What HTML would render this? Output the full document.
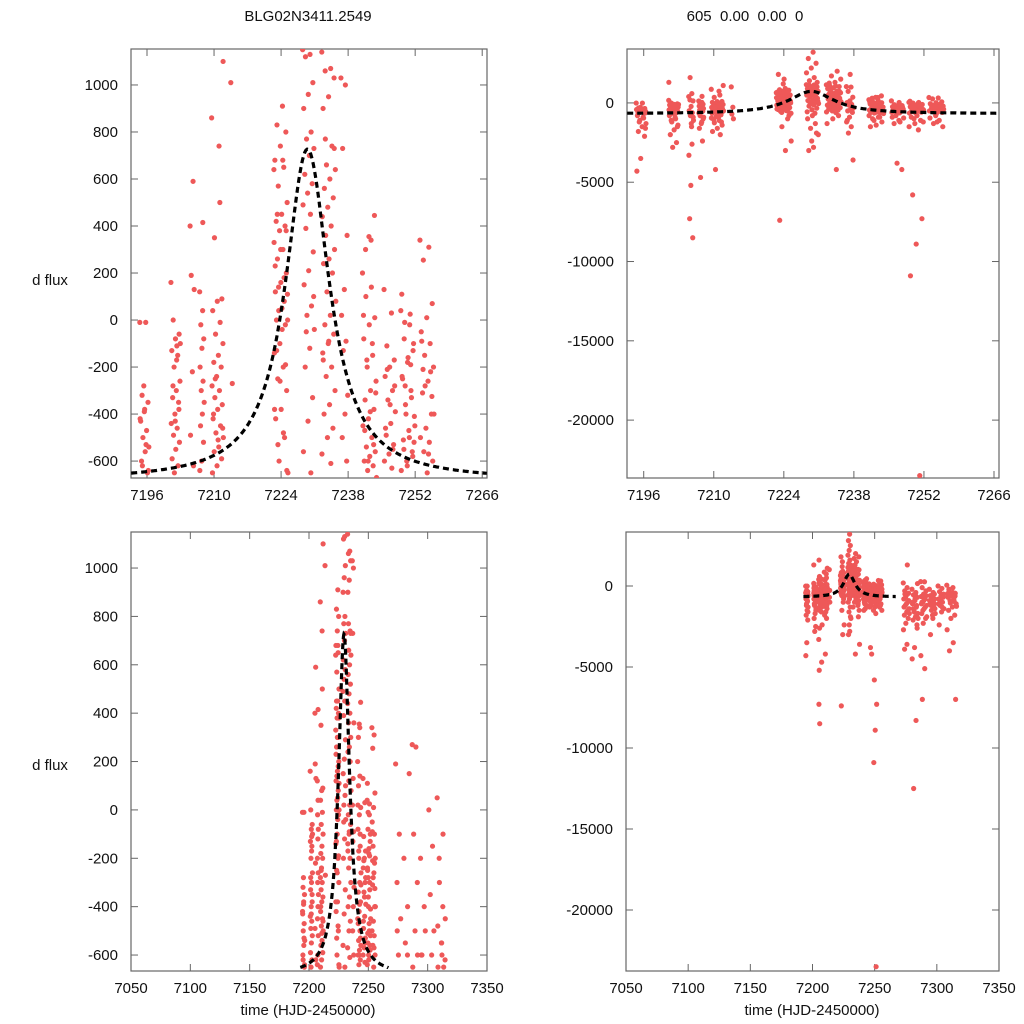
<!DOCTYPE html>
<html><head><meta charset="utf-8"><style>
html,body{margin:0;padding:0;background:#fff;width:1024px;height:1024px;overflow:hidden}
svg{display:block}
svg text{font-family:"Liberation Sans",sans-serif;fill:#111}
</style></head><body>
<svg id="chart" width="1024" height="1024" viewBox="0 0 1024 1024" xmlns="http://www.w3.org/2000/svg">
<text x="308" y="21" font-size="15" text-anchor="middle">BLG02N3411.2549</text>
<text x="745" y="21" font-size="15" text-anchor="middle" xml:space="preserve">605  0.00  0.00  0</text>
<text x="50" y="285" font-size="15" text-anchor="middle">d flux</text>
<text x="50" y="770" font-size="15" text-anchor="middle">d flux</text>
<text x="308" y="1015" font-size="15" text-anchor="middle">time (HJD-2450000)</text>
<text x="812" y="1015" font-size="15" text-anchor="middle">time (HJD-2450000)</text>
</svg>
<script>
// observation nights: start time, end time, flux values
const nightStart=[7194.5,7201,7205,7207,7209.5,7213.5,7222.5,7228.5,7232.5,7236.5,7241,7245.5,7249,7253,7273,7280,7287,7294,7301,7308];
const nightEnd  =[7196.5,7203,7206,7208,7212,7214,7225.5,7231,7235.5,7238,7244,7248,7252,7256,7278,7285,7292,7299,7306,7316];
const nightFlux=[
[-10,-10,-320,-350,-390,-430,-470,-500,-540,-560,-600,-650,-280,-420,-530,-620,-640,-380,-800,-950,-1100,-1300,-1500,-1800,-2100,-3500,-4300,-900,-1200,-1600],
[160,-110,0,-60,-80,-130,-150,-200,-260,-300,-330,-350,-400,-440,-460,-490,-520,-550,-590,-620,-650,-100,-170,-280,-380,-430,-800,-1000,-1200,-1400,-1700,-2000,-2500,-2800,1300,-900,-1100,-1500],
[400,590,190,130,-220,-490,-620,-800,-1100,-1500,-7300,-8500,-5200,-3300,-2600,1600,-900,-1300],
[120,40,-20,-80,-120,-200,-260,-300,-350,-400,-450,-520,-600,-640,415,-800,-1000,-1300,-1600,-2400,-4700,-900,-1200],
[860,740,350,90,80,40,-10,-60,-100,-150,-180,-200,-240,-280,-300,-330,-360,-380,-420,-450,-480,-500,-540,-560,-590,-620,-650,500,-250,-460,-510,-400,-750,-850,-950,-1100,-1250,-1400,-1600,-1800,-2000,-4200,1100,-900,-1050,-1200],
[1010,-270,-700,-1000],
[640,680,450,380,300,230,180,140,110,50,0,-20,-100,-140,-200,-250,-300,-380,-420,-500,-600,-650,910,830,800,740,680,650,570,500,450,420,400,380,330,300,260,200,160,120,80,40,0,-40,-130,-190,-260,-380,-480,-530,-640,1500,1800,-1000,-1500,-2400,-3000,-7400,-800,1200],
[1150,1130,1120,1010,960,900,800,770,730,700,620,580,540,490,450,390,290,210,150,60,20,-40,-120,-200,-330,-430,-560,-650,-50,100,3200,2800,2500,2200,1900,1600,1400,1300,-800,-1000,-1300,-1600,-2000,-2800,-3000,-1900,-2400],
[1140,1070,1060,1030,950,900,740,660,640,600,560,520,480,440,400,360,300,260,240,200,120,80,20,-20,-60,-100,-140,-200,-240,-300,-360,-400,-460,-500,-570,-610,770,730,-90,-170,2000,1700,1500,1300,1250,-800,-1000,-1300,-4200],
[1030,1000,730,360,130,20,-90,-130,-320,-400,-500,-600,-900,-1200,-1500,-1900,-3600,1800,-1100],
[200,140,100,10,-20,-80,-150,-200,-260,-300,-340,-380,-420,-450,-500,-540,-560,-580,-600,-620,-640,-670,340,300,445,355,20,-100,-170,-310,-390,-470,-530,-600,-800,-900,-1000,-1200,-1400,-1500,-900,-1100],
[130,30,-110,-170,-200,-240,-300,-340,-390,-440,-490,-530,-570,-600,-630,-210,-280,-360,-460,-550,-800,-950,-1100,-1300,-4200,-3800,-900,-1200],
[40,-20,-80,-130,-180,-240,-300,-360,-410,-470,-510,-560,-600,-640,25,-10,-100,-160,-250,-330,-400,-450,-500,-550,-580,-620,110,-190,-280,-520,-800,-900,-1100,-1300,-1500,-1700,-5800,-7300,-8900,-10900,-23500,-1000,-1200],
[340,310,255,70,10,-50,-100,-150,-200,-260,-310,-400,-460,-500,-520,-560,-600,-650,-90,-220,-280,-400,-570,-210,-325,-800,-950,-1100,-1300,-1500,-1200],
[190,-100,-300,-450,-600,-800,-1000,-1200,-1400,-1600,-1800,-2000,-2300,-2700,1300,-500,-900,-1100,-1300,-1500,-700,-1700,-3600,-3900],
[-200,-400,-550,-700,-900,-1100,-1300,-1500,-1700,-1900,-2100,-2400,-3800,-4500,-8300,-12500,150,-800,-1000,-1200,-1600,-2000,-600,-1400,-2600],
[270,260,-100,-300,-500,-650,-800,-1000,-1200,-1400,-1700,-2000,-2300,-4300,-5100,-7000,-600,-900,-1100,-1300,-1500,-1900,-700,-1000],
[-200,-400,-600,-800,-950,-1100,-1300,-1500,-1700,-2000,-3000,-500,-700,-900,-1000,-1200,-1400,-1800,-600,-1100],
[0,-150,-350,-500,-600,-800,-1000,-1200,-1400,-1600,-2400,-700,-900,-1100,-1300],
[50,-100,-300,-450,-550,-650,-800,-900,-1100,-1300,-1500,-1800,-2000,-2700,-3500,-4000,-7000,-600,-700,-950,-1050,-1250,-400,-200,-620,-550,-480,-650]
];
// microlensing model parameters: peak time, amplitude, half-width, baseline
const modelT0=[7229.5];
const modelAmp=[1410];
const modelWidth=[5.6];
const modelBase=[-683];
const xTicksTop=[7196,7210,7224,7238,7252,7266];
const xTicksBottom=[7050,7100,7150,7200,7250,7300,7350];
const yTicksLeft=[-600,-400,-200,0,200,400,600,800,1000];
const yTicksRight=[-20000,-15000,-10000,-5000,0];

const NS="http://www.w3.org/2000/svg";
const svg=document.getElementById('chart');
function mk(tag,attrs,parent){const e=document.createElementNS(NS,tag);for(const k in attrs)e.setAttribute(k,attrs[k]);(parent||svg).appendChild(e);return e;}
function model(t){const u=(t-modelT0[0])/modelWidth[0];return modelBase[0]+modelAmp[0]/(1+u*u);}

const panels=[
 {id:'top-left',px0:131,px1:487,py0:49,py1:478,xd:[7192.66,7267],yd:[-672,1153],xt:xTicksTop,yt:yTicksLeft},
 {id:'top-right',px0:627,px1:999,py0:49,py1:478,xd:[7192.66,7267],yd:[-23650,3400],xt:xTicksTop,yt:yTicksRight},
 {id:'bottom-left',px0:131,px1:487,py0:532,py1:971,xd:[7050,7350],yd:[-666,1149],xt:xTicksBottom,yt:yTicksLeft},
 {id:'bottom-right',px0:626,px1:999,py0:532,py1:971,xd:[7050,7350],yd:[-23765,3333],xt:xTicksBottom,yt:yTicksRight}
];
panels.forEach((p,pi)=>{
 const sx=v=>p.px0+(v-p.xd[0])/(p.xd[1]-p.xd[0])*(p.px1-p.px0);
 const sy=v=>p.py1-(v-p.yd[0])/(p.yd[1]-p.yd[0])*(p.py1-p.py0);
 const g=mk('g',{});
 
 
 const cp=mk('clipPath',{id:'clip'+pi},g);
 mk('rect',{x:p.px0,y:p.py0,width:p.px1-p.px0,height:p.py1-p.py0},cp);
 const frame=mk('rect',{x:p.px0,y:p.py0,width:p.px1-p.px0,height:p.py1-p.py0,fill:'none',stroke:'#666','stroke-width':1.2},g);
 
 
 p.xt.forEach(t=>{
  const x=sx(t);
  mk('line',{x1:x,x2:x,y1:p.py1,y2:p.py1-7,stroke:'#666'},g);
  mk('line',{x1:x,x2:x,y1:p.py0,y2:p.py0+7,stroke:'#666'},g);
  const lb=mk('text',{x:x,y:p.py1+22,'font-size':15,'text-anchor':'middle'},g);
  lb.textContent=t;
  
  
 });
 p.yt.forEach(t=>{
  const y=sy(t);
  mk('line',{x1:p.px0,x2:p.px0+7,y1:y,y2:y,stroke:'#666'},g);
  mk('line',{x1:p.px1,x2:p.px1-7,y1:y,y2:y,stroke:'#666'},g);
  const lb=mk('text',{x:p.px0-13,y:y+5,'font-size':15,'text-anchor':'end'},g);
  lb.textContent=t;
  
  
 });
 const pts=mk('g',{'clip-path':'url(#clip'+pi+')'},g);
 
 
 nightFlux.forEach((arr,ni)=>{
  const w=nightEnd[ni]-nightStart[ni];
  arr.forEach((f,k)=>{
   const t=nightStart[ni]+((k*0.618)%1)*w;
   if(t<p.xd[0]||t>p.xd[1]||f<p.yd[0]||f>p.yd[1])return;
   const c=mk('circle',{cx:sx(t),cy:sy(f),r:2.6,fill:'#ee5858'},pts);
   
   
  });
 });
 let d='';
 for(let t=7192.7;t<=7267;t+=0.25){d+=(d?'L':'M')+sx(t).toFixed(1)+','+sy(Math.max(p.yd[0],model(t))).toFixed(1);}
 const curve=mk('path',{d:d,fill:'none',stroke:'#000','stroke-width':3.2,'stroke-dasharray':'6,4','clip-path':'url(#clip'+pi+')'},g);
 
 
});
</script>
</body></html>
